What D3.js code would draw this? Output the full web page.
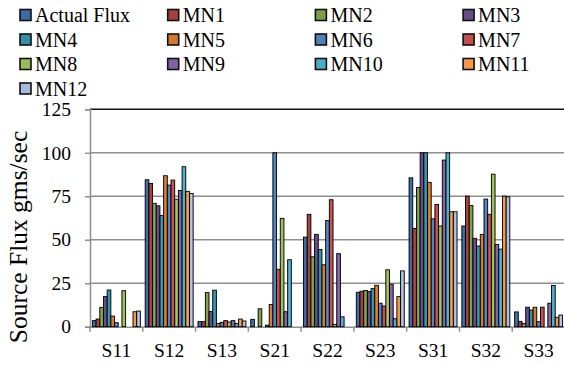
<!DOCTYPE html>
<html>
<head>
<meta charset="utf-8">
<script src="https://cdn.jsdelivr.net/npm/d3@7"></script>
<style>
  html, body { margin: 0; padding: 0; background: #fff; }
  svg { display: block; }
</style>
</head>
<body>
<svg id="chart" width="564" height="365"></svg>
<script>
// Source sites along the x axis
const categories = ["S11", "S12", "S13", "S21", "S22", "S23", "S31", "S32", "S33"];

// Series names, in legend order
const seriesNames = ["Actual Flux", "MN1", "MN2", "MN3", "MN4", "MN5", "MN6",
                     "MN7", "MN8", "MN9", "MN10", "MN11", "MN12"];

// Source flux (gms/sec) per site, one array per series
const actualFlux = [3.5, 84.5, 2.9, 4.2, 51.5, 19.8, 85.6, 57.9, 8.5];
const mn1  = [4.4, 82.4, 2.9, 0, 64.6, 20.4, 56.5, 75.1, 3.1];
const mn2  = [11.1, 70.9, 19.6, 10.3, 40.2, 20.8, 80.1, 69.7, 1.9];
const mn3  = [17.3, 69.5, 8.7, 0, 53.1, 20.2, 100, 50.8, 11.2];
const mn4  = [21.1, 63.9, 21.0, 0.9, 44.4, 21.9, 100, 46.4, 9.6];
const mn5  = [6.1, 86.8, 1.9, 12.8, 35.6, 23.8, 83.0, 53.1, 11.2];
const mn6  = [2.3, 81.4, 2.5, 100, 61.1, 13.5, 62.0, 73.4, 2.9];
const mn7  = [0, 84.3, 3.5, 33.0, 73.0, 11.9, 70.3, 64.6, 11.2];
const mn8  = [20.7, 73.3, 2.7, 62.3, 1.3, 32.7, 57.9, 87.7, 0];
const mn9  = [0, 78.3, 3.5, 8.6, 42.0, 24.4, 95.8, 47.3, 13.5];
const mn10 = [0, 92.0, 1.9, 38.5, 5.7, 4.6, 100, 44.6, 23.7];
const mn11 = [8.6, 77.8, 4.4, 0, 0, 17.3, 66.1, 75.1, 5.4];
const mn12 = [9.0, 76.6, 3.3, 0, 0, 32.1, 66.1, 74.7, 6.7];

const yTicks = [0, 25, 50, 75, 100, 125];
const yTitle = "Source Flux gms/sec";

const seriesValues = [actualFlux, mn1, mn2, mn3, mn4, mn5, mn6,
                      mn7, mn8, mn9, mn10, mn11, mn12];
const colors = ["#3c6ba3", "#a53f3b", "#7f9c47", "#644c88", "#368fa8", "#d3782f",
                "#4f81bd", "#c0504d", "#9bbb59", "#8064a2", "#4bacc6", "#f79646",
                "#a8bbdc"];

const serif = "'Liberation Serif', 'Times New Roman', Times, serif";

const svg = d3.select("#chart");
const plot = { left: 90, right: 565, top: 109.3, bottom: 326.7 };

const x0 = d3.scaleBand().domain(categories).range([plot.left, plot.right])
  .paddingInner(0).paddingOuter(0);
const x1 = d3.scaleBand().domain(d3.range(seriesNames.length))
  .range([0, x0.bandwidth()]).paddingInner(0).paddingOuter(0.65);
const y = d3.scaleLinear().domain([0, 125]).range([plot.bottom, plot.top]);

// Horizontal shading for each series' bars
const defs = svg.append("defs");
colors.forEach((c, i) => {
  const g = defs.append("linearGradient").attr("id", "grad" + i)
    .attr("x1", "0%").attr("x2", "100%").attr("y1", "0%").attr("y2", "0%");
  const base = d3.color(c);
  g.append("stop").attr("offset", "0%").attr("stop-color", base.darker(0.25));
  g.append("stop").attr("offset", "50%").attr("stop-color", base.brighter(0.2));
  g.append("stop").attr("offset", "100%").attr("stop-color", base.darker(0.25));
});

// Gridlines
svg.append("g").selectAll("line")
  .data(yTicks.filter(t => t > 0))
  .join("line")
  .attr("x1", plot.left).attr("x2", plot.right)
  .attr("y1", d => y(d)).attr("y2", d => y(d))
  .attr("stroke", d => d === 125 ? "#111" : "#8f8f8f")
  .attr("stroke-width", 1.5);

// Y axis
const yAxis = svg.append("g")
  .attr("transform", `translate(${plot.left},0)`)
  .call(d3.axisLeft(y).tickValues(yTicks).tickSize(5).tickPadding(14));
yAxis.attr("font-family", null);
yAxis.select(".domain").attr("stroke", "#8f8f8f").attr("stroke-width", 1.5);
yAxis.selectAll(".tick line").attr("stroke", "#8f8f8f").attr("stroke-width", 1.5);
yAxis.selectAll(".tick text")
  .style("font-family", serif)
  .style("font-size", "19.5px")
  .attr("fill", "#000");

// X axis: ticks at category boundaries
const xAxis = svg.append("g")
  .attr("transform", `translate(0,${plot.bottom})`)
  .call(d3.axisBottom(x0).tickSize(0).tickPadding(16));
xAxis.attr("font-family", null);
xAxis.select(".domain").attr("stroke", "#8f8f8f").attr("stroke-width", 1.5);
xAxis.selectAll(".tick text")
  .style("font-family", serif)
  .style("font-size", "19.5px")
  .attr("fill", "#000");
xAxis.selectAll(".bound")
  .data(categories.map(c => x0(c)).concat([plot.right]))
  .join("line").attr("class", "bound")
  .attr("x1", d => d).attr("x2", d => d)
  .attr("y1", 0).attr("y2", 5)
  .attr("stroke", "#8f8f8f").attr("stroke-width", 1.5);

// Bars
const groups = svg.append("g").selectAll("g")
  .data(categories)
  .join("g")
  .attr("transform", d => `translate(${x0(d)},0)`);

groups.selectAll("rect")
  .data((cat, ci) => seriesValues.map((vals, si) => ({ si, v: vals[ci] })).filter(d => d.v > 0))
  .join("rect")
  .attr("x", d => x1(d.si))
  .attr("width", x1.bandwidth())
  .attr("y", d => y(d.v))
  .attr("height", d => y(0) - y(d.v))
  .attr("fill", d => `url(#grad${d.si})`)
  .attr("stroke", "#000")
  .attr("stroke-width", 0.9);

// Y axis title
svg.append("text")
  .attr("transform", `translate(26.5,${(plot.top + plot.bottom) / 2 + 19}) rotate(-90)`)
  .attr("text-anchor", "middle")
  .style("font-family", serif)
  .style("font-size", "25.5px")
  .text(yTitle);

// Legend: four columns
const legend = svg.append("g");
const colW = 147.7, rowH = 24.5;
const items = legend.selectAll("g")
  .data(seriesNames)
  .join("g")
  .attr("transform", (d, i) => `translate(${20 + (i % 4) * colW},${15 + Math.floor(i / 4) * rowH})`);
items.append("rect")
  .attr("x", 0).attr("y", -5.5).attr("width", 11).attr("height", 11)
  .attr("fill", (d, i) => colors[i])
  .attr("stroke", "#111").attr("stroke-width", 1.6);
items.append("text")
  .attr("x", 15).attr("y", 7)
  .style("font-family", serif)
  .style("font-size", "20px")
  .text(d => d);
</script>
</body>
</html>
